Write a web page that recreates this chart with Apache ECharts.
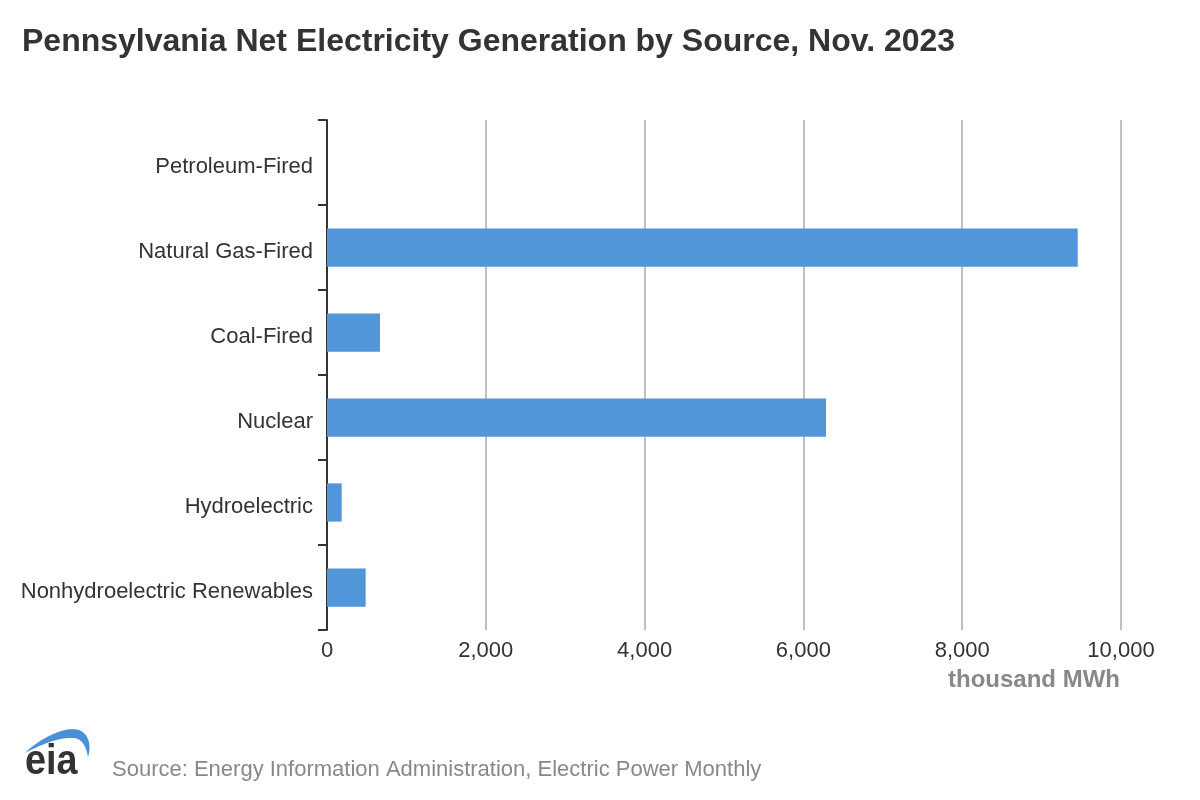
<!DOCTYPE html>
<html>
<head>
<meta charset="utf-8">
<script src="https://cdn.jsdelivr.net/npm/echarts@6/dist/echarts.min.js"></script>
<style>
html,body{margin:0;padding:0;background:#fff;}
#chart{width:1200px;height:800px;}
</style>
</head>
<body>
<div id="chart"></div>
<script>
const categories = ['Petroleum-Fired', 'Natural Gas-Fired', 'Coal-Fired', 'Nuclear', 'Hydroelectric', 'Nonhydroelectric Renewables'];
const values = [0, 9455, 667, 6285, 185, 487];
const xTicks = [0, 2000, 4000, 6000, 8000, 10000];
const titleText = 'Pennsylvania Net Electricity Generation by Source, Nov. 2023';
const unitText = 'thousand MWh';
const sourceText = 'Source: Energy Information Administration, Electric Power Monthly';

const FONT = '"Liberation Sans", Arial, Helvetica, sans-serif';

// EIA logo swoosh (decorative), built from two bezier curves
function bez(p0, p1, p2, p3, t) {
  const u = 1 - t;
  return [
    u*u*u*p0[0] + 3*u*u*t*p1[0] + 3*u*t*t*p2[0] + t*t*t*p3[0],
    u*u*u*p0[1] + 3*u*u*t*p1[1] + 3*u*t*t*p2[1] + t*t*t*p3[1]
  ];
}
const swoosh = [];
for (let i = 0; i <= 30; i++) swoosh.push(bez([25,753],[40,738],[68,724],[81,731], i/30));
for (let i = 0; i <= 20; i++) swoosh.push(bez([81,731],[90,736],[91,748],[88,757], i/20));
for (let i = 0; i <= 20; i++) swoosh.push(bez([88,757],[86,746],[82,739],[74,738], i/20));
for (let i = 0; i <= 30; i++) swoosh.push(bez([74,738],[60,737],[42,744],[25,753], i/30));

const chart = echarts.init(document.getElementById('chart'));
chart.setOption({
  animation: false,
  backgroundColor: '#fff',
  title: {
    text: titleText,
    left: 17, top: 21,
    textStyle: {fontFamily: FONT, fontSize: 32, fontWeight: 'bold', color: '#333'}
  },
  grid: {left: 327, right: 79, top: 120, bottom: 170},
  xAxis: {
    type: 'value',
    min: xTicks[0], max: xTicks[xTicks.length - 1], interval: 2000,
    axisLine: {show: false},
    axisTick: {show: false},
    splitLine: {show: true, lineStyle: {color: '#c0c0c0', width: 2}},
    axisLabel: {
      fontFamily: FONT, fontSize: 22, color: '#333', margin: 10,
      formatter: v => v.toLocaleString('en-US')
    }
  },
  yAxis: {
    type: 'category',
    data: categories,
    inverse: true,
    axisLine: {show: true, lineStyle: {color: '#333', width: 2}},
    axisTick: {show: true, length: 9, lineStyle: {color: '#333', width: 2}},
    splitLine: {show: false},
    axisLabel: {fontFamily: FONT, fontSize: 22, color: '#333', margin: 14, verticalAlign: 'top', lineHeight: 8}
  },
  series: [{
    type: 'bar',
    data: values,
    barCategoryGap: '55%',
    itemStyle: {color: '#5096d8'},
    z: 3
  }],
  graphic: [
    {
      type: 'text', right: 80, top: 668,
      style: {text: unitText, font: 'bold 24px ' + FONT, fill: '#888', textAlign: 'right'}
    },
    {
      type: 'text', left: 112, top: 759,
      style: {text: sourceText, font: '22px ' + FONT, fill: '#888'}
    },
    {
      type: 'polygon',
      shape: {points: swoosh},
      style: {fill: '#4a90d9'}
    },
    {
      type: 'text', x: 25, y: 741, scaleX: 0.9,
      style: {text: 'eia', font: 'bold 42px ' + FONT, fill: '#333'}
    }
  ]
});
</script>
</body>
</html>
